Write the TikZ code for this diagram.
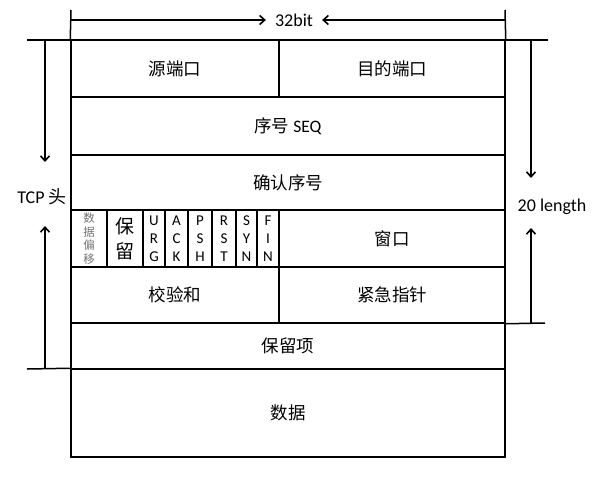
\documentclass[tikz,border=0pt]{standalone}
\usepackage{fontspec}
\setmainfont{Carlito}
\newfontfamily\cjk{Noto Sans CJK SC}
\usetikzlibrary{arrows.meta}

\tikzset{
	frame/.style={line width=1.5pt},
	cell/.style={draw,line width=1.5pt,inner sep=0pt,font=\cjk\fontsize{17.5}{17.5}\selectfont},
	flag/.style={cell,align=center,font=\fontsize{15}{18}\selectfont},
	dim/.style={line width=1.6pt,-{Straight Barb[length=5pt,width=9pt,line width=1.6pt]}},
	lbl/.style={inner sep=0pt,font=\fontsize{18}{18}\selectfont},
}
% one field of the header: name, x1, y1, x2, y2, text
\newcommand{\tcpcell}[6]{\node[cell,minimum width={#4-#2},minimum height={#5-#3}] (#1) at ({(#2+#4)/2},{(#3+#5)/2}) {#6};}

\begin{document}
\begin{tikzpicture}[x=1pt,y=-1pt]
	\useasboundingbox (0,0) rectangle (600,488);
	% fields
	\tcpcell{src}{71}{40}{279}{97}{源端口}
	\tcpcell{dst}{279}{40}{505}{97}{目的端口}
	\tcpcell{seq}{71}{97}{505}{155}{序号 {\normalfont SEQ}}
	\tcpcell{ack}{71}{155}{505}{210}{确认序号}
	\tcpcell{off}{71}{210}{107}{267}{}
	\node[align=center,text=black!55,font=\cjk\fontsize{11.5}{13.5}\selectfont] at (off) {数\\据\\偏\\移};
	\tcpcell{res}{107}{210}{143}{267}{}
	\node[align=center,font=\cjk\fontsize{19}{25}\selectfont] at (res) {保\\留};
	\foreach \name/\xa/\xb/\txt in {urgf/143/165/U\\R\\G, ackf/165/188/A\\C\\K, pshf/188/212/P\\S\\H,
			rstf/212/236/R\\S\\T, synf/236/257/S\\Y\\N, finf/257/279/F\\I\\N}
		\node[flag,minimum width={\xb-\xa},minimum height=57] (\name) at ({(\xa+\xb)/2},238.5) {\txt};
	\tcpcell{win}{279}{210}{505}{267}{窗口}
	\tcpcell{chk}{71}{267}{279}{323}{校验和}
	\tcpcell{urg}{279}{267}{505}{323}{紧急指针}
	\tcpcell{opt}{71}{323}{505}{369}{保留项}
	\tcpcell{data}{71}{369}{505}{457}{数据}
	% extension lines
	\draw[frame] (27,40) -- (548,40);
	\draw[frame] (27,369) -- (data.north west);
	\draw[frame] (urg.south east) -- (545,323);
	\draw[frame] (src.north west) -- (71,10);
	\draw[frame] (dst.north east) -- (505,10);
	% 32bit
	\node[lbl,inner xsep=9pt] (bit) at (294,20) {32bit};
	\coordinate (bitL) at (71,20);
	\coordinate (bitR) at (505,20);
	\draw[dim] (bitL) -- (bit.west);
	\draw[dim] (bitR) -- (bit.east);
	% TCP head
	\node[lbl] (hdr) at (42,197) {TCP {\cjk 头}};
	\coordinate (hTop) at (45,40);
	\coordinate (hBot) at (45,369);
	\coordinate (hTipA) at (45,162);
	\coordinate (hTipB) at (45,226);
	\draw[dim] (hTop) -- (hTipA);
	\draw[dim] (hBot) -- (hTipB);
	% 20 length
	\node[lbl] (len) at (552,207) {20 length};
	\coordinate (lTop) at (531,40);
	\coordinate (lBot) at (531,323);
	\coordinate (lTipA) at (531,178);
	\coordinate (lTipB) at (531,228);
	\draw[dim] (lTop) -- (lTipA);
	\draw[dim] (lBot) -- (lTipB);
\end{tikzpicture}
\end{document}
